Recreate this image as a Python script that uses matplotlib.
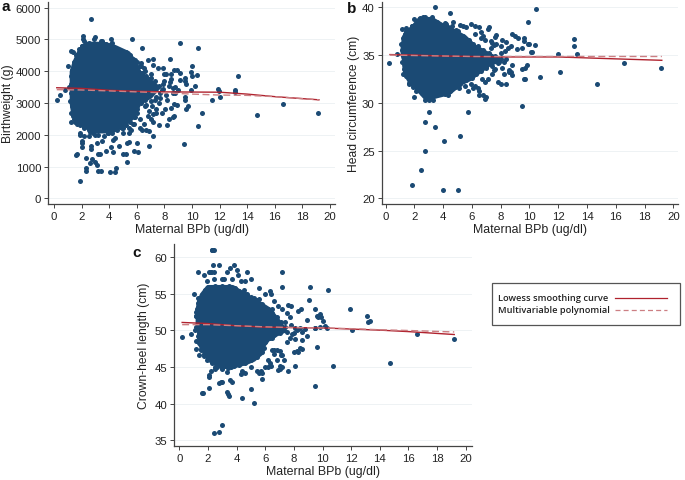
import matplotlib
matplotlib.use("Agg")
import matplotlib.pyplot as plt
from matplotlib.lines import Line2D
from matplotlib.patches import Rectangle

plt.rcParams['font.family'] = ['Liberation Sans', 'DejaVu Sans']
W, H = 685, 481
NAVY = '#1b4a74'
RED = '#b0222e'
PINK = '#cc7f83'
X_LABEL = 'Maternal BPb (ug/dl)'
X_TICKS = list(range(0, 21, 2))

# ---- panel a: birthweight
a_pts_x = [0.2,0.4,0.8,1.05,1.2,1.4,1.6,1.2,1.2,1.2,1.2,1.5,1.85,1.6,1.65,1.9,2.0,2.0,2.05,2.2,2.3,2.3,2.35,2.5,2.6,2.7,2.7,2.75,2.7,2.1,2.1,3.0,2.9,3.1,3.0,3.1,3.2,3.4,3.3,3.2,3.5,3.8,4.1,4.3,4.05,4.4,4.5,4.7,4.3,5.0,5.2,5.3,5.3,5.4,5.8,6.0,6.1,6.9,7.15,5.65,6.35,4.1,4.15,3.5,
 6.3,6.5,6.8,7.2,7.2,7.5,7.9,8.4,9.1,10.4,10.0,9.9,10.0,10.35,9.15,8.9,8.7,8.5,8.1,8.0,8.5,8.4,9.5,9.5,9.1,8.8,8.6,8.3,9.6,9.9,10.2,9.0,8.8,8.6,8.1,8.2,8.05,8.2,8.5,8.6,8.3,8.7,8.7,8.9,9.6,9.7,9.5,9.5,10.4,10.75,9.45,11.45,11.85,11.95,12.05,13.15,13.15,13.35,14.7,16.6,19.15,
 7.6,7.2,7.0,6.8,6.4,6.7,6.9,6.2,6.5,7.4,7.6,7.1,7.8,5.8,5.6,5.4,5.0,4.6,4.4,6.1,6.4,6.6,6.9,7.0,6.3,6.6,6.0,6.2,5.9,7.3,7.7,6.6,6.9,7.2,6.0,6.3,5.7,5.9,3.9,3.0,2.6,2.0,1.7,1.5,1.8,5.1,5.4,5.7,4.8,5.0,1.9,2.2,6.7,7.4,7.9,8.0,7.8]
a_pts_y = [3100,3250,3420,4150,4650,4600,4350,3850,3600,2700,2400,2400,550,1350,1400,2000,1800,1750,1600,1950,1270,950,870,1950,1100,1650,1550,1250,5650,5100,5000,5080,5000,1750,1150,1050,870,850,1400,1380,1800,1500,1600,1450,820,820,940,1650,1850,1400,1400,1130,1750,1780,1500,1750,1450,1650,1950,5000,4720,5000,4850,4950,
 4250,4100,4350,4400,4200,4100,4100,4370,4900,4720,4170,3980,3850,3870,3950,4040,4030,3900,3900,3920,3750,3650,3800,3700,3720,3500,3480,3550,3600,3400,3520,3400,3300,3300,3250,3100,2820,2320,2850,2570,2500,2590,2980,2950,2800,2920,3200,3100,2280,2690,1700,3100,3430,3380,3200,3350,3420,3840,2620,2980,2700,
 2300,2400,2500,2600,2150,2150,2130,2200,2350,2800,3000,2900,2700,2350,2150,2050,2050,2150,1900,3950,3800,4000,3750,3900,3950,3650,2700,2500,2550,3100,3150,2900,2750,2650,4300,4150,4400,4250,2050,2000,2100,4800,4500,4300,4150,2400,2200,2350,2250,2200,2050,2250,2950,2700,3600,3700,3400]
a_edge_x = [1.1,1.25,1.15,1.3,1.35,1.45,1.7,1.9,2.2,2.5,2.8,3.2,3.6,3.9,4.2,4.5,4.9,5.2,5.5,5.8,6.0,6.3,6.6,7.0,7.4,7.7,7.9,7.6,7.3,7.0,6.7,6.4,6.2,5.9,5.5,5.2,4.8,4.5,4.2,3.8,3.4,3.2,2.8,2.5,2.2,2.0,1.8,1.6,1.45,1.3]
a_edge_y = [3500,3300,3050,2900,2600,2500,2350,2300,2200,2150,2050,2000,1950,2050,2050,2200,2200,2300,2400,2550,2800,3000,3100,3050,3200,3300,3450,3550,3700,3800,3850,3950,4150,4350,4500,4600,4650,4700,4900,4850,4950,4800,4850,4900,4950,4800,4700,4500,4300,4050]
a_core_y = [2100,2300,2500,2700,3000,3200,3500,4000,4300,4600,4800,4900]
a_core_l = [2.9,2.0,1.6,1.3,1.2,1.2,1.2,1.2,1.4,1.7,2.0,2.3]
a_core_r = [4.2,5.0,5.6,5.9,6.2,7.0,7.6,6.2,5.9,5.4,4.4,3.6]
a_lowess_x = [0.2,2,4,6,8,10,12,14,16,19.2]
a_lowess_y = [3480,3460,3400,3370,3350,3345,3340,3280,3200,3100]
a_poly_x = [0.2,2,4,6,8,10,12,14,16,19.2]
a_poly_y = [3420,3410,3380,3350,3320,3280,3250,3240,3200,3100]
a_yticks = [0,1000,2000,3000,4000,5000,6000]

# ---- panel b: head circumference
b_pts_x = [0.25,0.8,1.1,1.2,1.4,1.4,1.75,2.0,2.4,2.6,3.2,3.4,4.5,4.7,4.3,4.9,5.2,5.6,5.9,6.2,6.5,6.6,7.1,7.2,6.8,6.9,7.3,7.6,7.7,7.5,8.1,8.4,8.8,9.0,9.2,9.6,9.9,10.45,9.9,10.0,10.4,10.2,10.1,9.5,9.6,9.1,8.7,8.5,8.3,8.0,8.1,8.2,8.6,8.7,8.8,8.0,8.4,8.6,9.5,9.7,9.8,9.6,9.7,8.2,7.9,7.6,7.4,7.1,6.9,6.7,6.5,6.5,6.9,6.8,7.0,7.0,7.5,7.8,6.1,5.7,5.5,5.1,5.9,6.2,6.4,
 2.0,2.1,2.8,3.3,3.0,3.2,4.3,2.7,3.4,4.05,5.2,2.75,2.45,1.85,3.95,5.0,5.75,9.5,10.75,11.95,12.1,13.1,13.1,13.3,14.7,16.6,19.15,
 1.2,1.6,1.4,1.8,2.3,4.1,4.6,5.0,4.2,3.6,5.4,7.7,8.0,6.2,6.6,7.3,3.0,2.6,1.6,1.5,7.4,7.8,8.4,8.8]
b_pts_y = [34.2,35.1,37.7,33.0,37.8,37.5,32.2,38.8,38.9,39.0,39.0,40.0,39.4,38.5,37.9,37.6,38.1,37.9,38.3,37.2,37.9,37.4,37.7,37.9,37.0,36.6,36.5,36.9,36.2,36.1,36.6,36.4,37.2,37.0,36.8,36.5,36.2,39.8,38.5,36.2,36.1,35.3,35.3,35.7,36.8,35.6,35.9,35.7,35.4,35.2,33.6,33.0,33.4,33.2,32.9,32.0,32.0,33.2,33.5,33.6,34.0,32.5,32.5,34.3,34.3,33.5,33.0,32.5,32.2,32.5,31.2,30.8,30.4,30.8,30.6,33.8,33.4,32.2,31.5,31.2,31.8,31.6,32.0,31.8,31.5,
 30.6,31.2,30.5,30.3,30.3,31.0,30.8,28.0,27.5,26.0,26.5,25.0,23.0,21.4,20.9,20.9,29.0,29.7,32.7,35.1,33.2,36.7,36.0,35.1,32.0,34.2,33.6,
 36.0,33.0,36.5,38.0,38.3,38.4,38.0,37.5,38.2,38.5,38.0,37.1,36.0,38.0,36.8,35.7,29.0,31.4,32.0,34.0,36.3,34.7,34.6,34.0]
b_edge_x = [1.1,1.05,1.2,1.35,1.6,1.8,2.1,2.4,2.7,3.0,3.3,3.7,4.1,4.6,5.0,5.4,5.8,6.1,6.4,6.8,7.2,7.6,8.0,7.8,7.4,7.0,6.6,6.3,6.0,5.6,5.2,4.8,4.5,4.1,3.7,3.3,3.0,2.7,2.5,2.2,1.9,1.6,1.4,1.25,1.15]
b_edge_y = [35.5,36.2,36.8,37.2,37.5,38.0,38.3,38.8,38.95,38.8,38.6,38.2,37.9,37.6,37.2,37.0,36.6,36.2,35.9,35.5,35.2,34.9,34.6,34.2,33.9,33.6,33.3,33.0,32.6,32.4,32.0,31.7,31.2,30.9,31.1,30.7,30.4,30.3,31.0,31.3,31.7,32.1,32.8,33.5,34.3]
b_core_y = [30.5,31,31.5,32,32.5,33,34,34.5,35,36,37,37.5,38,38.9]
b_core_l = [2.7,2.4,2.1,1.7,1.5,1.3,1.2,1.2,1.1,1.1,1.2,1.4,1.8,2.3]
b_core_r = [3.1,4.4,4.8,5.2,5.9,6.3,7.2,8.0,7.4,6.2,5.5,4.9,4.2,3.2]
b_lowess_x = [0.3,2,4,6,8,10,12,14,16,19.2]
b_lowess_y = [35.05,35.0,34.9,34.85,34.8,34.8,34.8,34.7,34.6,34.45]
b_poly_x = [0.3,2,4,6,8,10,12,14,16,19.2]
b_poly_y = [35.0,34.95,34.9,34.85,34.85,34.85,34.85,34.85,34.85,34.85]
b_yticks = [20,25,30,35,40]

# ---- panel c: crown-heel length
c_pts_x = [0.2,0.8,1.05,1.15,1.3,1.35,1.3,1.2,1.65,1.7,1.95,2.1,2.2,2.3,2.2,2.3,2.4,2.45,2.8,2.35,2.45,3.1,3.0,3.3,3.55,3.7,3.8,4.0,4.1,4.3,4.7,5.0,4.6,5.6,6.0,6.3,7.15,7.15,
 2.05,2.1,2.05,2.5,2.8,2.9,3.0,3.3,3.4,3.45,3.55,3.7,4.3,4.35,5.0,5.2,2.45,2.8,2.95,1.6,5.6,5.7,5.8,6.2,6.4,6.9,7.0,7.2,7.6,7.3,7.1,7.0,8.0,8.2,8.3,8.4,8.1,8.6,9.05,9.1,9.5,10.4,
 9.5,9.6,9.7,9.8,9.9,10.0,10.3,10.2,9.85,9.6,9.5,10.75,9.5,8.9,8.6,8.4,8.3,8.2,8.1,8.0,7.5,7.7,7.9,8.1,8.6,8.8,8.9,8.3,8.5,7.8,7.6,11.95,12.05,13.1,13.3,13.2,14.7,16.6,19.15,
 6.8,6.6,6.5,6.3,6.0,6.2,5.8,5.4,5.0,4.6,4.4,4.0,3.6,3.3,3.0,2.5,2.2,6.4,6.6,6.9,6.5,7.2,7.5,7.7,7.8,7.4,6.6,6.8,7.0,7.2,1.3,1.2,1.1,1.2,1.5,1.7,1.9,4.7,4.5,5.2,5.6,6.5]
c_pts_y = [49.1,49.5,55.0,52.5,58.0,46.7,54.5,48.5,41.4,57.6,56.8,58.0,58.0,61.0,58.0,61.0,61.0,58.0,59.0,59.0,57.0,57.0,57.0,58.0,58.5,57.0,59.0,58.2,57.6,56.7,58.0,57.0,56.8,55.8,55.0,55.4,58.0,56.0,
 43.7,43.9,42.2,44.7,42.8,43.0,43.0,41.6,41.3,41.1,43.2,43.0,44.1,40.8,42.0,40.1,36.0,36.2,37.1,41.4,44.2,44.4,43.4,45.0,45.1,44.6,44.8,45.0,44.5,46.0,46.7,47.2,47.0,47.2,47.1,47.6,45.2,47.5,54.1,56.0,42.4,55.5,
 53.0,52.0,51.8,52.2,51.8,51.3,50.4,50.6,50.5,47.7,50.3,45.1,50.3,49.3,49.8,50.3,50.2,50.0,50.4,49.7,48.4,49.0,49.5,48.9,48.7,50.2,51.5,52.6,53.0,53.4,53.5,52.9,50.1,52.0,51.3,51.1,45.6,49.5,48.8,
 47.3,47.4,47.3,45.5,45.0,46.0,44.2,44.5,45.0,44.2,44.5,45.5,45.0,44.3,44.8,45.0,44.5,55.0,54.0,53.3,52.9,53.0,52.4,51.8,50.8,51.1,46.8,46.0,45.2,46.6,53.8,52.0,50.0,47.5,47.3,46.5,46.0,55.0,55.5,54.5,54.3,49.0]
c_edge_x = [1.2,1.15,1.25,1.4,1.6,1.8,2.0,2.5,3.0,3.5,3.9,4.2,4.6,5.0,5.4,5.8,6.2,6.5,6.8,7.1,7.4,7.5,7.0,6.6,6.3,6.0,5.9,5.8,5.4,5.0,4.6,4.2,3.8,3.4,3.0,2.6,2.3,2.0,1.75,1.5,1.35,1.3]
c_edge_y = [50.5,52.0,53.0,54.0,54.8,55.5,56.0,56.1,56.1,56.1,55.8,55.4,55.0,54.6,54.1,53.6,53.0,52.4,51.8,51.2,50.5,49.8,49.6,49.4,49.0,48.4,47.6,47.0,46.4,46.0,45.6,45.3,45.1,44.9,44.9,45.0,45.6,46.1,46.8,47.5,48.3,49.2]
c_core_y = [45,45.5,46,47,48,49,50,51,52,53,54,55,56,56.1]
c_core_l = [3.0,2.4,2.0,1.7,1.4,1.3,1.3,1.2,1.2,1.2,1.3,1.5,1.9,2.0]
c_core_r = [3.6,4.6,5.2,5.8,5.9,6.3,7.4,7.1,6.7,6.3,5.5,4.6,3.8,3.7]
c_lowess_x = [0.2,2,4,6,8,10,12,14,16,19.2]
c_lowess_y = [51.1,50.95,50.65,50.45,50.4,50.35,50.2,50.05,49.85,49.45]
c_poly_x = [0.2,2,4,6,8,10,12,14,16,19.2]
c_poly_y = [50.8,50.8,50.65,50.5,50.4,50.35,50.25,50.1,50.0,49.8]
c_yticks = [35,40,45,50,55,60]

legend_labels = ['Lowess smoothing curve', 'Multivariable polynomial']


def panel(fig, box, xcal, ycal, pts, edge, core, low, poly, yticks, ylabel, letter, lpos, ypad):
    L, T, R, B = box
    ax = fig.add_axes([L / W, 1 - B / H, (R - L) / W, (B - T) / H])
    (px0, vx0, px1, vx1) = xcal
    (py0, vy0, py1, vy1) = ycal
    sx = (vx1 - vx0) / (px1 - px0)
    sy = (vy1 - vy0) / (py1 - py0)
    ax.set_xlim(vx0 + (L - px0) * sx, vx0 + (R - px0) * sx)
    ax.set_ylim(vy0 + (B - py0) * sy, vy0 + (T - py0) * sy)
    ax.set_xticks(X_TICKS)
    ax.set_yticks(yticks)
    ax.grid(axis='y', color='#eef2f4', lw=0.7)
    ax.set_axisbelow(True)
    for s in ('top', 'right'):
        ax.spines[s].set_visible(False)
    for s in ('left', 'bottom'):
        ax.spines[s].set_color('#444444')
        ax.spines[s].set_linewidth(0.9)
    ax.tick_params(labelsize=8.2, length=3, width=0.7, color='#444444', labelcolor='#222222', pad=2)
    ax.set_xlabel(X_LABEL, fontsize=8.9, color='#222222', labelpad=1.5)
    ax.set_ylabel(ylabel, fontsize=8.7, color='#222222', labelpad=ypad)
    ax.fill_betweenx(core[0], core[1], core[2], color=NAVY, lw=2, zorder=2)
    ax.scatter(pts[0], pts[1], s=13, color=NAVY, lw=0, zorder=3)
    ax.scatter(edge[0], edge[1], s=13, color=NAVY, lw=0, zorder=3)
    ax.plot(low[0], low[1], color=RED, lw=1.0, zorder=4)
    ax.plot(poly[0], poly[1], color=PINK, lw=1.0, ls=(0, (5, 2.5)), zorder=4)
    fig.text(lpos[0] / W, 1 - lpos[1] / H, letter, fontsize=11, fontweight='bold',
             color='#111111', ha='left', va='center')
    return ax


fig = plt.figure(figsize=(W / 100, H / 100), dpi=100, facecolor='white')
panel(fig, (48.3, 3, 335, 205), (54, 0, 330, 20), (199.3, 0, 8.7, 6000),
      (a_pts_x, a_pts_y), (a_edge_x, a_edge_y), (a_core_y, a_core_l, a_core_r),
      (a_lowess_x, a_lowess_y), (a_poly_x, a_poly_y), a_yticks, 'Birthweight (g)', 'a', (2, 7), 1.5)
panel(fig, (381.7, 3, 678, 205), (385.7, 0, 673.3, 20), (199.3, 20, 8.3, 40),
      (b_pts_x, b_pts_y), (b_edge_x, b_edge_y), (b_core_y, b_core_l, b_core_r),
      (b_lowess_x, b_lowess_y), (b_poly_x, b_poly_y), b_yticks, 'Head circumference (cm)', 'b', (347, 9), 1.5)
panel(fig, (174.3, 245, 472, 447.3), (179.3, 0, 465.7, 20), (441.3, 35, 258.3, 60),
      (c_pts_x, c_pts_y), (c_edge_x, c_edge_y), (c_core_y, c_core_l, c_core_r),
      (c_lowess_x, c_lowess_y), (c_poly_x, c_poly_y), c_yticks, 'Crown-heel length (cm)', 'c', (132, 253), 3.5)

# legend box, placed in figure pixels
ov = fig.add_axes([0, 0, 1, 1], facecolor='none')
ov.set_xlim(0, W)
ov.set_ylim(H, 0)
ov.axis('off')
ov.add_patch(Rectangle((492, 283.5), 188, 42, fc='white', ec='#555555', lw=0.9))
for text, y, ls in zip(legend_labels, (299, 311), ('-', (0, (4, 2.5)))):
    ov.text(498, y, text, fontsize=6.7, family='Open Sans', color='#222222', va='center', ha='left',
            fontweight='semibold')
    ov.add_line(Line2D([615, 667], [y, y], color=RED if ls == '-' else PINK, lw=0.9, ls=ls))

fig.savefig('out.png', dpi=100)
